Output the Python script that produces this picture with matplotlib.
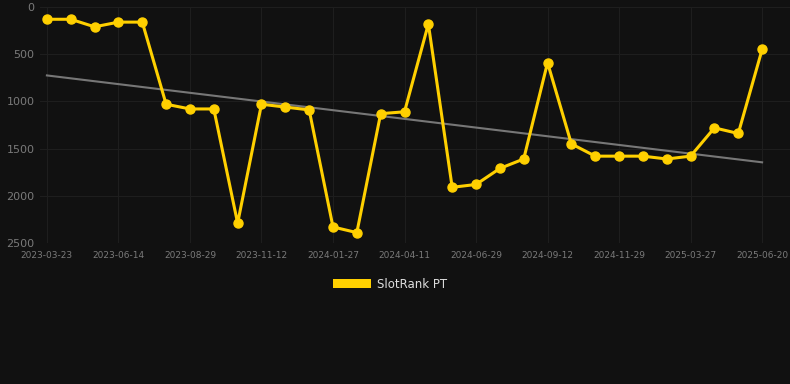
import numpy as np
import matplotlib
matplotlib.use("Agg")
import matplotlib.pyplot as plt
from matplotlib.patches import Patch

# rank values, one per snapshot date (lower rank = better, axis inverted)
dates = ["2023-03-23", "", "", "2023-06-14", "", "", "2023-08-29", "", "",
         "2023-11-12", "", "", "2024-01-27", "", "", "2024-04-11", "", "",
         "2024-06-29", "", "", "2024-09-12", "", "", "2024-11-29", "", "",
         "2025-03-27", "", "", "2025-06-20"]
ranks = [130, 130, 210, 160, 160, 1030, 1080, 1080, 2290, 1030, 1060,
         1090, 2330, 2390, 1130, 1110, 180, 1910, 1880, 1710, 1610, 590,
         1450, 1580, 1580, 1580, 1610, 1580, 1280, 1340, 450]
y_ticks = [0, 500, 1000, 1500, 2000, 2500]

bg = "#111111"
gold = "#FFD000"

x = np.arange(len(ranks))
slope, icept = np.polyfit(x, ranks, 1)

fig = plt.figure(figsize=(7.9, 3.84), dpi=100, facecolor=bg)
ax = fig.add_axes([40 / 790, 1 - 243 / 384, 750 / 790, 236 / 384], facecolor=bg)

ax.plot(x, slope * x + icept, color="#777777", lw=1.5, zorder=2)
ax.plot(x, ranks, color=gold, lw=2.2, marker="o", markersize=6.5, zorder=3)

ax.set_ylim(2500, 0)
ax.set_xlim(-0.29, 31.17)
ax.set_yticks(y_ticks)
tick_idx = [i for i, d in enumerate(dates) if d]
ax.set_xticks(tick_idx)
ax.set_xticklabels([dates[i] for i in tick_idx])

ax.grid(True, color="#1e1e1e", lw=0.8)
for s in ax.spines.values():
    s.set_visible(False)
ax.tick_params(axis="y", length=0, pad=4, labelsize=8, labelcolor="#7a7a7a")
ax.tick_params(axis="x", length=0, pad=6, labelsize=6.5, labelcolor="#7a7a7a")

fig.legend(handles=[Patch(facecolor=gold, label="SlotRank PT")],
           loc="center", bbox_to_anchor=(390 / 790, 1 - 284 / 384),
           frameon=False, fontsize=8.5, labelcolor="#dddddd",
           handlelength=3.3, handleheight=0.9, handletextpad=0.5)

fig.savefig("out.png", facecolor=bg)
